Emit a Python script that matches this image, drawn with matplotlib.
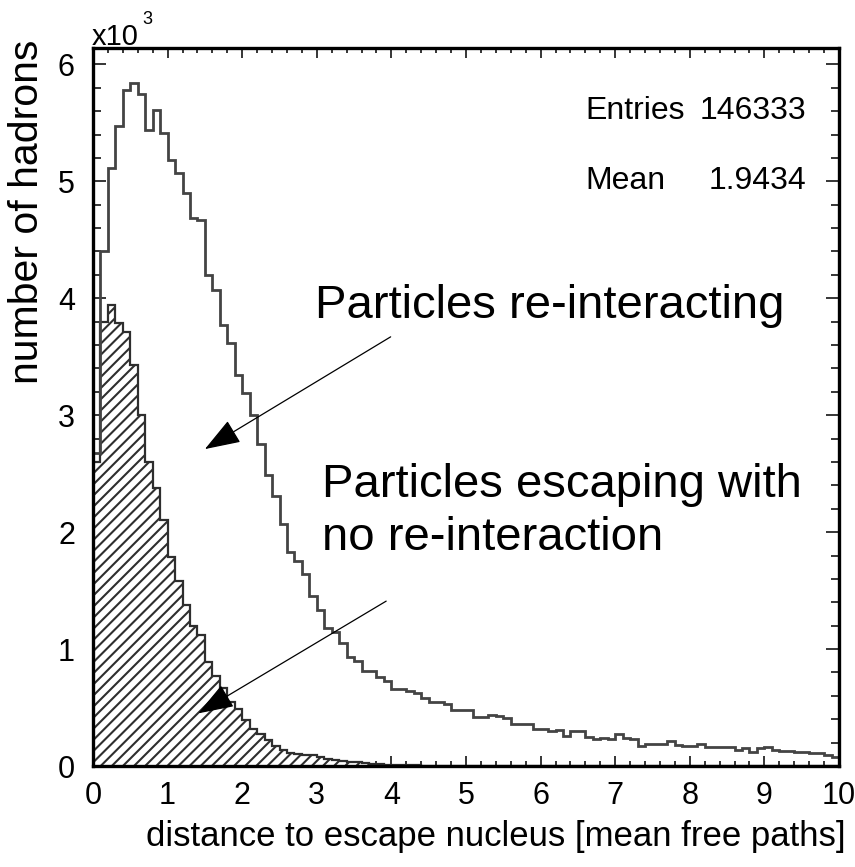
import numpy as np
import matplotlib
matplotlib.use("Agg")
import matplotlib.pyplot as plt
from matplotlib.ticker import MultipleLocator

# 100 bins of 0.1 mean free path, counts in units of 10^3
bin_edges = np.linspace(0, 10, 101)

all_hadrons = [
    2.68, 4.40, 5.11, 5.47, 5.78, 5.84, 5.75, 5.44, 5.61, 5.41,
    5.18, 5.07, 4.90, 4.69, 4.67, 4.20, 4.07, 3.77, 3.62, 3.34,
    3.19, 3.00, 2.75, 2.49, 2.31, 2.07, 1.83, 1.75, 1.64, 1.45,
    1.33, 1.18, 1.15, 1.05, 0.935, 0.90, 0.81, 0.81, 0.76, 0.73,
    0.66, 0.66, 0.64, 0.62, 0.58, 0.55, 0.55, 0.53, 0.48, 0.48,
    0.48, 0.42, 0.42, 0.44, 0.43, 0.41, 0.36, 0.36, 0.36, 0.32,
    0.32, 0.30, 0.31, 0.26, 0.30, 0.30, 0.25, 0.23, 0.24, 0.23,
    0.27, 0.24, 0.23, 0.17, 0.19, 0.19, 0.19, 0.21, 0.18, 0.17,
    0.17, 0.19, 0.16, 0.16, 0.16, 0.16, 0.14, 0.155, 0.12, 0.155,
    0.16, 0.14, 0.13, 0.125, 0.12, 0.12, 0.115, 0.115, 0.096, 0.075,
]

no_reinteraction = [
    2.60, 3.80, 3.94, 3.79, 3.71, 3.43, 3.00, 2.60, 2.38, 2.10,
    1.79, 1.58, 1.38, 1.20, 1.12, 0.89, 0.77, 0.665, 0.545, 0.485,
    0.395, 0.315, 0.275, 0.225, 0.175, 0.14, 0.115, 0.10, 0.095, 0.09,
    0.075, 0.06, 0.05, 0.04, 0.035, 0.03, 0.025, 0.02, 0.015, 0.012,
    0.01, 0.008, 0.006, 0.005, 0.004, 0.003, 0.002, 0.002, 0.001, 0.001,
] + [0.0] * 50

n_entries = 146333
mean_value = 1.9434

font = ['Liberation Sans', 'DejaVu Sans']

fig = plt.figure(figsize=(8.55, 8.67), dpi=100)
W, H = 855, 867
ax = fig.add_axes([93 / W, 1 - 766 / H, (839 - 93) / W, (766 - 48) / H])

plt.rcParams['hatch.linewidth'] = 1.5

# escaping particles: hatched, underneath
ax.stairs(no_reinteraction, bin_edges, fill=True, facecolor='white',
          edgecolor='#2e2e2e', hatch='///', linewidth=1.6, zorder=2)
# all hadrons
ax.stairs(all_hadrons, bin_edges, color='#444444', linewidth=2.0, zorder=3)

ax.set_xlim(0, 10)
ax.set_ylim(0, 6.14)

ax.xaxis.set_major_locator(MultipleLocator(1))
ax.xaxis.set_minor_locator(MultipleLocator(0.2))
ax.yaxis.set_major_locator(MultipleLocator(1))
ax.yaxis.set_minor_locator(MultipleLocator(0.2))

for s in ax.spines.values():
    s.set_linewidth(2.4)
    s.set_zorder(5)

ax.tick_params(axis='both', which='both', direction='in', top=True, right=True,
               width=1.1, color='black')
ax.tick_params(axis='x', which='major', length=7.5, pad=11)
ax.tick_params(axis='x', which='minor', length=3.8)
ax.tick_params(axis='y', which='major', length=9.5, pad=13)
ax.tick_params(axis='y', which='minor', length=5.5)

for lab in ax.get_xticklabels() + ax.get_yticklabels():
    lab.set_fontfamily(font)
    lab.set_fontsize(22)

ax.set_xlabel('distance to escape nucleus [mean free paths]',
              family=font, fontsize=25, ha='right', va='top')
ax.xaxis.set_label_coords(1.009, -0.075)
ax.set_ylabel('number of hadrons', family=font, fontsize=29.5,
              ha='center', va='top', rotation_mode='default')
ax.yaxis.set_label_coords(-0.088, 1.012)

# exponent of the y axis
fig.text(92 / W, 1 - 45 / H, 'x10', family=font, fontsize=21,
         ha='left', va='baseline')
fig.text(142 / W, 1 - 24 / H, '3', family=font, fontsize=13,
         ha='left', va='baseline')

# stats box
stat_rows = [('Entries', f'{n_entries}', 119), ('Mean', f'{mean_value:.4f}', 189)]
for name, val, y_px in stat_rows:
    fig.text(585 / W, 1 - y_px / H, name, family=font, fontsize=23,
             ha='left', va='baseline')
    fig.text(806 / W, 1 - y_px / H, val, family=font, fontsize=23,
             ha='right', va='baseline')

# annotations
ax.text(2.98, 3.83, 'Particles re-interacting', family=font,
        fontsize=34, ha='left', va='baseline', zorder=6)
ax.text(3.07, 2.30, 'Particles escaping with', family=font,
        fontsize=34, ha='left', va='baseline', zorder=6)
ax.text(3.07, 1.85, 'no re-interaction', family=font,
        fontsize=34, ha='left', va='baseline', zorder=6)

arrow_style = dict(arrowstyle='-|>,head_length=0.9,head_width=0.32',
                   color='black', lw=0.9, mutation_scale=25,
                   shrinkA=0, shrinkB=0)
ax.annotate('', xy=(1.50, 2.71), xytext=(3.99, 3.67), arrowprops=arrow_style,
            zorder=6)
ax.annotate('', xy=(1.41, 0.45), xytext=(3.93, 1.41), arrowprops=arrow_style,
            zorder=6)

fig.savefig('out.png', dpi=100)
